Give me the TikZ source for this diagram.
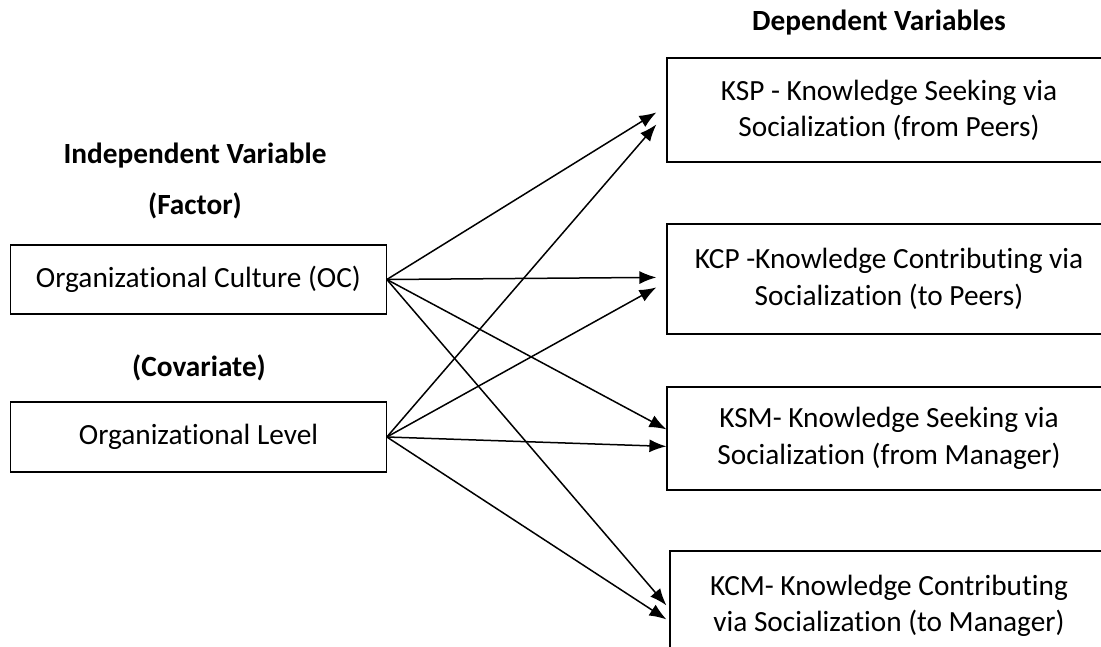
\documentclass[tikz,border=0pt]{standalone}
\usepackage{fontspec}
\setmainfont{Carlito}[Ligatures=NoCommon]
\usetikzlibrary{arrows.meta,calc}
\begin{document}
\begin{tikzpicture}[x=1pt,y=-1pt,
  box/.style={draw, line width=1.2pt, inner sep=0pt, align=center,
    font=\fontsize{29.3}{36.5}\selectfont},
  head/.style={font=\fontsize{29.3}{36}\selectfont\bfseries},
  arr/.style={line width=1.5pt, -{Latex[length=17pt,width=13pt]}}]
\useasboundingbox (0,0) rectangle (1101,647);

% headings
\node[head] (hdep) at (879,23) {Dependent Variables};
\node[head] (hind) at (195,156) {Independent Variable};
\node[head] (hfac) at (195,206) {(Factor)};
\node[head] (hcov) at (199,368) {(Covariate)};

% independent side
\node[box, minimum width=375.5pt, minimum height=69pt] (oc) at (198.5,279.5)
  {Organizational Culture (OC)};
\node[box, minimum width=375.5pt, minimum height=70pt] (lvl) at (198.5,437)
  {Organizational Level};

% dependent side
\node[box, minimum width=444pt, minimum height=104pt, text depth=3pt] (ksp) at (889,110)
  {KSP - Knowledge Seeking via\\Socialization (from Peers)};
\node[box, minimum width=444pt, minimum height=110pt] (kcp) at (889,279)
  {KCP -Knowledge Contributing via\\Socialization (to Peers)};
\node[box, minimum width=444pt, minimum height=103pt] (ksm) at (889,438.5)
  {KSM- Knowledge Seeking via\\Socialization (from Manager)};
\node[box, minimum width=438pt, minimum height=110pt] (kcm) at (889,606)
  {KCM- Knowledge Contributing\\via Socialization (to Manager)};

% effects of the factor
\draw[arr] (oc.east) -- ($(ksp.north west)+(-10,55)$);
\draw[arr] (oc.east) -- ($(kcp.north west)+(-10,54)$);
\draw[arr] (oc.east) -- ($(ksm.north west)+(0,43)$);
\draw[arr] (oc.east) -- ($(kcm.north west)+(-3,55)$);

% effects of the covariate
\draw[arr] (lvl.east) -- ($(ksp.north west)+(-10,67)$);
\draw[arr] (lvl.east) -- ($(kcp.north west)+(-10,64)$);
\draw[arr] (lvl.east) -- ($(ksm.north west)+(0,60)$);
\draw[arr] (lvl.east) -- ($(kcm.north west)+(-3,69)$);
\end{tikzpicture}
\end{document}
